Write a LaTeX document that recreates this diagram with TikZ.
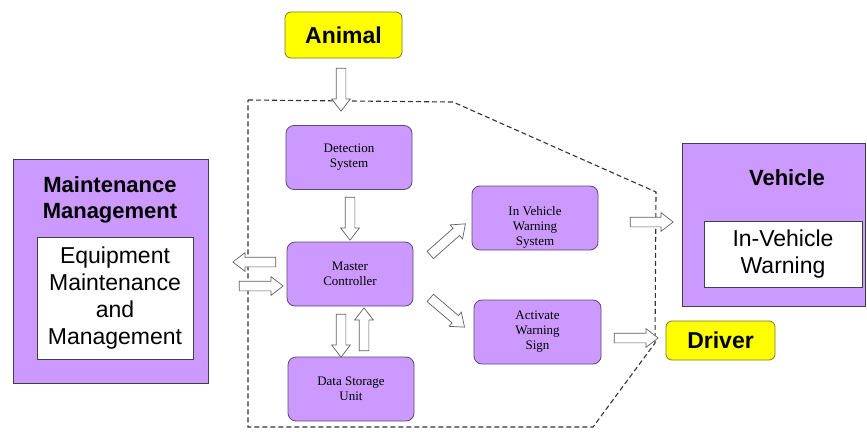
\documentclass[tikz,border=0pt]{standalone}
\usepackage{fontspec}
\setmainfont{Liberation Serif}
\newfontfamily\arialf{Liberation Sans}
\usetikzlibrary{shapes.arrows}
\definecolor{lav}{HTML}{CC99FF}
\definecolor{lavline}{HTML}{5C4A72}
\definecolor{yel}{HTML}{FFFF00}
\definecolor{yelline}{HTML}{7A7A20}
\definecolor{arrline}{HTML}{606060}
\definecolor{boxline}{HTML}{404040}
\begin{document}
\begin{tikzpicture}[x=1pt,y=-1pt,
  pbox/.style={draw=lavline, fill=lav, rounded corners=8pt, minimum width=126pt, minimum height=64pt,
    align=center, font=\fontsize{13}{15}\selectfont, line width=0.8pt, inner sep=2pt},
  ptext/.style={align=center, font=\fontsize{13}{15}\selectfont, inner sep=0pt},
  ybox/.style={draw=yelline, fill=yel, rounded corners=6pt, font=\arialf\bfseries\fontsize{23}{27}\selectfont, line width=0.8pt},
  obox/.style={draw=boxline, fill=lav, line width=0.8pt},
  wbox/.style={draw=boxline, fill=white, line width=0.6pt, align=center, font=\arialf\fontsize{23}{27}\selectfont},
  ttl/.style={font=\arialf\bfseries\fontsize{22}{26}\selectfont, align=center, inner sep=0pt},
  harrow/.style={sloped, allow upside down, single arrow, draw=arrline, fill=white, line width=0.7pt,
    inner xsep=0pt, inner ysep=4.5pt, single arrow head extend=4.5pt, single arrow tip angle=75,
    minimum height=#1},
  bound/.style={draw=black!80, dash pattern=on 5pt off 3pt, line width=1.1pt}
]
\useasboundingbox (0,0) rectangle (867,431);

% dashed system boundary
\draw[bound] (248,100) -- (453,102) -- (656,192) -- (655,343) -- (593,427) -- (248,427) -- cycle;

% external boxes
\node[ybox, minimum width=117pt, minimum height=46pt] (animal) at (343.5,35) {Animal};
\node[obox, minimum width=195pt, minimum height=224pt] (maint) at (110.5,271) {};
\node[ttl] (mainttitle) at (110,200) {Maintenance\\Management};
\node[wbox, minimum width=156pt, minimum height=122pt] (equip) at (115,298) {Equipment\\Maintenance\\and\\Management};
\node[obox, minimum width=183pt, minimum height=163pt] (veh) at (773.5,224.5) {};
\node[ttl] (vehtitle) at (787,178) {Vehicle};
\node[wbox, minimum width=158pt, minimum height=66pt] (ivw) at (783,254) {In-Vehicle\\Warning};
\node[ybox, minimum width=109pt, minimum height=39pt] (driver) at (720.5,340.5) {Driver};

% inner boxes
\node[pbox] (det) at (349,157.5) {Detection\\System};
\node[pbox] (master) at (350,274) {Master\\Controller};
\node[pbox] (data) at (351,389) {Data Storage\\Unit};
\node[pbox] (ivws) at (535,218) {};
\node[ptext] (ivwstext) at (535,227) {In Vehicle\\Warning\\System};
\node[pbox, minimum width=127pt] (aws) at (537.5,332) {Activate\\Warning\\Sign};

% arrow end points
\coordinate (a1s) at (341,65);   \coordinate (a1e) at (341,108);
\coordinate (a2s) at (350,194);  \coordinate (a2e) at (350,237);
\coordinate (l1s) at (279,262);  \coordinate (l1e) at (236,262);
\coordinate (r1s) at (236,286);  \coordinate (r1e) at (280,286);
\coordinate (d1s) at (341,311);  \coordinate (d1e) at (341,354);
\coordinate (u1s) at (364,354);  \coordinate (u1e) at (364,311);
\coordinate (g1s) at (428,257);  \coordinate (g1e) at (463,226);
\coordinate (g2s) at (428,296);  \coordinate (g2e) at (462,325);
\coordinate (v1s) at (627,222);  \coordinate (v1e) at (670,222);
\coordinate (dr1s) at (611,338); \coordinate (dr1e) at (655,338);

% hollow block arrows
\path (a1s) -- (a1e) node[harrow=43pt, midway] (arrA) {};
\path (a2s) -- (a2e) node[harrow=43pt, midway] (arrB) {};
\path (l1s) -- (l1e) node[harrow=43pt, midway] (arrC) {};
\path (r1s) -- (r1e) node[harrow=44pt, midway] (arrD) {};
\path (d1s) -- (d1e) node[harrow=43pt, midway] (arrE) {};
\path (u1s) -- (u1e) node[harrow=43pt, midway] (arrF) {};
\path (g1s) -- (g1e) node[harrow=47pt, midway] (arrG) {};
\path (g2s) -- (g2e) node[harrow=45pt, midway] (arrH) {};
\path (v1s) -- (v1e) node[harrow=43pt, midway] (arrI) {};
\path (dr1s) -- (dr1e) node[harrow=44pt, midway] (arrJ) {};
\end{tikzpicture}
\end{document}
